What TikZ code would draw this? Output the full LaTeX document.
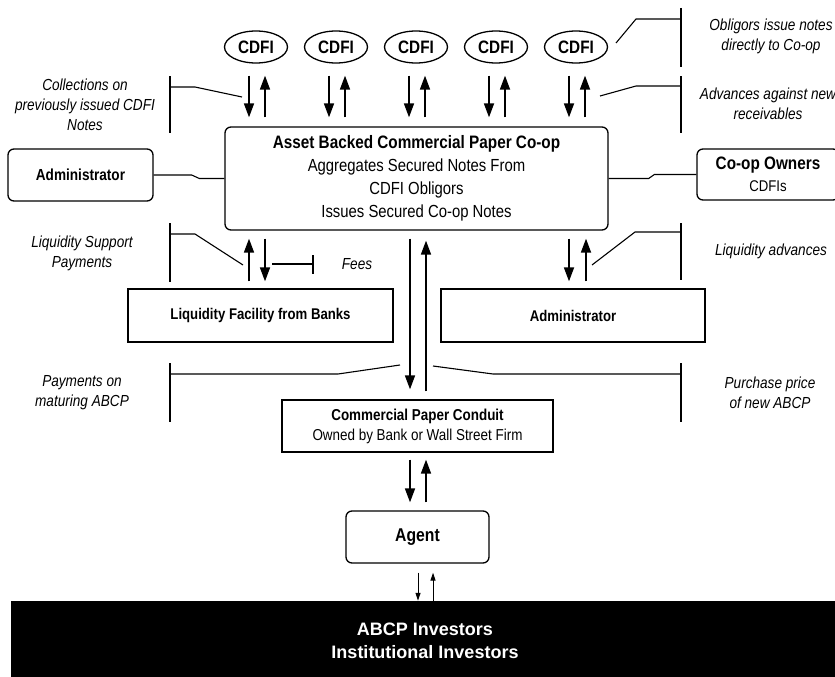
\documentclass[tikz,border=0pt]{standalone}
\usepackage{fontspec}
\setmainfont{Liberation Sans}[FakeStretch=0.85]
\newfontfamily\widefont{Liberation Sans}
\usetikzlibrary{arrows.meta,shapes.geometric,calc}
\begin{document}
\begin{tikzpicture}[x=1pt,y=-1pt,
  boxr/.style={draw,line width=1.3pt,rounded corners=6pt,inner sep=0pt,align=center},
  boxs/.style={draw,line width=1.3pt,inner sep=0pt,align=center},
  cdfi/.style={draw,ellipse,line width=1.3pt,minimum width=63pt,minimum height=32pt,inner sep=0pt,font=\fontsize{18}{20}\selectfont\bfseries},
  arr/.style={line width=1.7pt,-{Triangle[length=14pt,width=10pt]}},
  sarr/.style={line width=1pt,-{Triangle[length=8pt,width=5pt]}},
  lbl/.style={align=center,font=\fontsize{16}{20}\selectfont\itshape},
  call/.style={line width=1.1pt}]
\useasboundingbox (0,0) rectangle (835,677);
\clip (0,0) rectangle (835,677);

% CDFI ellipses
\foreach \i/\x in {1/256,2/336,3/416,4/496,5/576}{
  \node[cdfi] (c\i) at (\x,47) {CDFI};
}

% main box
\node[boxr,minimum width=383pt,minimum height=103pt,font=\fontsize{17.5}{23}\selectfont] (coop) at (416.5,178.5)
  {{\fontsize{18}{23}\selectfont\bfseries Asset Backed Commercial Paper Co-op}\\
   Aggregates Secured Notes From\\
   CDFI Obligors\\
   Issues Secured Co-op Notes};

\node[boxr,minimum width=145pt,minimum height=52pt,font=\fontsize{16}{18}\selectfont\bfseries] (admL) at (80.5,175)
  {Administrator};
\node[boxr,minimum width=142pt,minimum height=51pt,font=\fontsize{15.5}{22}\selectfont] (own) at (768,174.5)
  {{\fontsize{18}{22}\selectfont\bfseries Co-op Owners}\\CDFIs};

\node[boxs,minimum width=265pt,minimum height=53pt,font=\fontsize{15.5}{18}\selectfont\bfseries] (liq) at (260.5,315.5)
  {Liquidity Facility from Banks};
\node[boxs,minimum width=264pt,minimum height=53pt,font=\fontsize{15.5}{18}\selectfont\bfseries] (admR) at (573,315.5)
  {Administrator};

\node[boxs,minimum width=271pt,minimum height=52pt,font=\fontsize{15.8}{20}\selectfont] (cond) at (417.5,426)
  {{\bfseries Commercial Paper Conduit}\\Owned by Bank or Wall Street Firm};

\node[boxr,minimum width=143pt,minimum height=52pt,font=\fontsize{18.5}{20}\selectfont\bfseries] (agent) at (417.5,537)
  {Agent};

\node[fill=black,draw=black,inner sep=0pt,minimum width=828pt,minimum height=80pt,align=center,text=white,
  font=\widefont\fontsize{18}{23}\selectfont\bfseries] (inv) at (425,641)
  {ABCP Investors\\Institutional Investors};

% connectors side boxes
\draw[line width=1.1pt] (admL.east) -- ++(38,0) -- ([xshift=-25pt]coop.west) -- (coop.west);
\draw[line width=1.1pt] (coop.east) -- ++(40,0) -- ([xshift=-42pt]own.west) -- (own.west);

% CDFI arrows
\foreach \i in {1,...,5}{
  \draw[arr,shorten <=12pt,shorten >=9pt] ([xshift=-7pt]c\i.south) -- ([xshift=-7pt]c\i.south |- coop.north);
  \draw[arr,shorten <=9pt,shorten >=12pt] ([xshift=9pt]c\i.south |- coop.north) -- ([xshift=9pt]c\i.south);
}

% main box <-> liquidity facility
\draw[arr,shorten <=7pt,shorten >=8pt] ([xshift=-11.5pt]liq.north) -- ([xshift=-11.5pt]liq.north |- coop.south);
\draw[arr,shorten <=8pt,shorten >=7pt] ([xshift=4.5pt]liq.north |- coop.south) -- ([xshift=4.5pt]liq.north);

% main box <-> administrator
\draw[arr,shorten <=8pt,shorten >=7pt] ([xshift=-4pt]admR.north |- coop.south) -- ([xshift=-4pt]admR.north);
\draw[arr,shorten <=7pt,shorten >=8pt] ([xshift=13pt]admR.north) -- ([xshift=13pt]admR.north |- coop.south);

% main box <-> conduit
\draw[arr,shorten <=8pt,shorten >=10pt] ([xshift=-7.5pt]cond.north |- coop.south) -- ([xshift=-7.5pt]cond.north);
\draw[arr,shorten <=8pt,shorten >=10pt] ([xshift=8.5pt]cond.north) -- ([xshift=8.5pt]cond.north |- coop.south);

% conduit <-> agent
\draw[arr,shorten <=7pt,shorten >=8pt] ([xshift=-7.5pt]agent.north |- cond.south) -- ([xshift=-7.5pt]agent.north);
\draw[arr,shorten <=8pt,shorten >=7pt] ([xshift=8.5pt]agent.north) -- ([xshift=8.5pt]agent.north |- cond.south);

% agent <-> investors
\draw[sarr,shorten <=9pt] ([xshift=0.5pt]agent.south) -- ([xshift=0.5pt]agent.south |- inv.north);
\draw[sarr,shorten >=9pt] ([xshift=15.5pt]agent.south |- inv.north) -- ([xshift=15.5pt]agent.south);

% labels
\node[lbl] (l1) at (85,105) {Collections on\\previously issued CDFI\\Notes};
\node[lbl] (r1) at (771,36.5) {Obligors issue notes\\directly to Co-op};
\node[lbl] (r2) at (768,103.5) {Advances against new\\receivables};
\node[lbl] (l2) at (82,253) {Liquidity Support\\Payments};
\node[lbl] (fees) at (357,264) {Fees};
\node[lbl] (r3) at (771,251) {Liquidity advances};
\node[lbl] (l3) at (82,392.5) {Payments on\\maturing ABCP};
\node[lbl] (r4) at (770,392.5) {Purchase price\\of new ABCP};

% callout brackets
\draw[call] (170,76) -- (170,133);
\draw[call] (170,87) -- (195,87) -- (242,97);
\draw[call] (681,8) -- (681,67);
\draw[call] (681,19) -- (636,19) -- (616,43);
\draw[call] (681,76) -- (681,133);
\draw[call] (681,86) -- (636,86) -- (600,96);
\draw[call] (170,223) -- (170,282);
\draw[call] (170,234) -- (195,234) -- (243,265);
\draw[call] (272,264) -- (313,264);
\draw[call] (313,255) -- (313,274);
\draw[call] (681,223) -- (681,280);
\draw[call] (681,232) -- (635,232) -- (592,265);
\draw[call] (170,363) -- (170,422);
\draw[call] (170,374) -- (338,374) -- (400,365);
\draw[call] (681,363) -- (681,422);
\draw[call] (681,374) -- (493,374) -- (433,366);
\end{tikzpicture}
\end{document}
